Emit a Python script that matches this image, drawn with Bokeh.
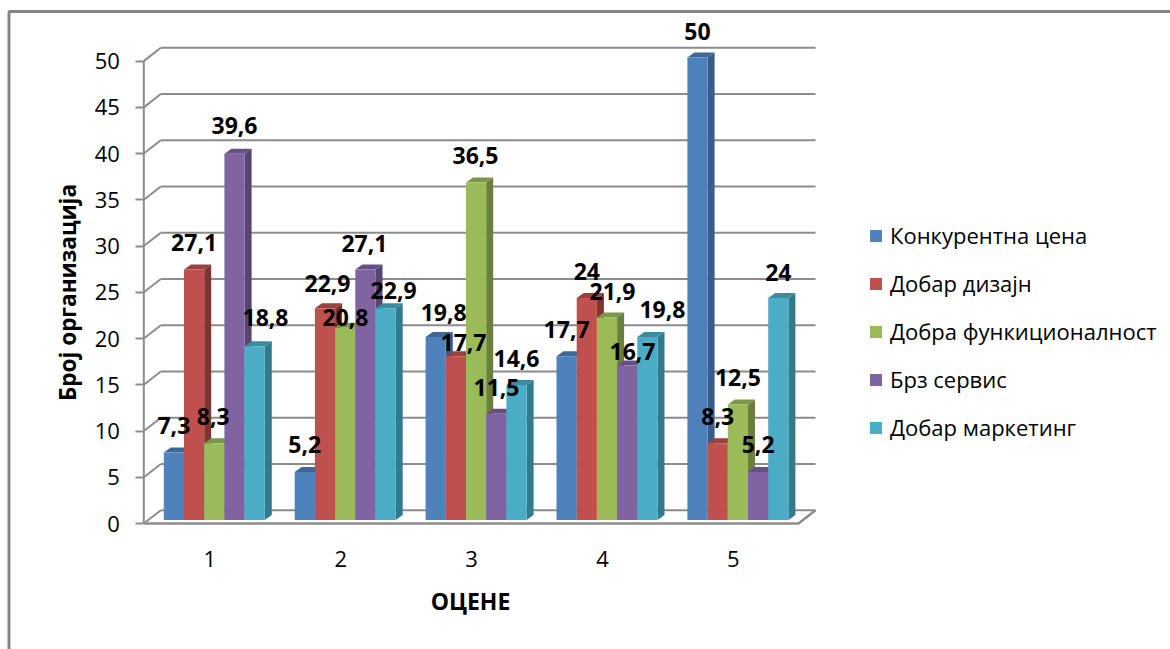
from math import pi

from bokeh.core.properties import value
from bokeh.embed import file_html
from bokeh.models import ColumnDataSource, FixedTicker, Legend, LegendItem, Range1d
from bokeh.plotting import figure
from bokeh.resources import INLINE

# Survey results per grade
GRADES = [1, 2, 3, 4, 5]
CENA = [7.3, 5.2, 19.8, 17.7, 50]
DIZAJN = [27.1, 22.9, 17.7, 24, 8.3]
FUNKCIJA = [8.3, 20.8, 36.5, 21.9, 12.5]
SERVIS = [39.6, 27.1, 11.5, 16.7, 5.2]
MARKETING = [18.8, 22.9, 14.6, 19.8, 24]
SERIES_NAMES = ["Конкурентна цена", "Добар дизајн", "Добра функиционалност", "Брз сервис", "Добар маркетинг"]
SERIES = [CENA, DIZAJN, FUNKCIJA, SERVIS, MARKETING]
Y_TICKS = [0, 5, 10, 15, 20, 25, 30, 35, 40, 45, 50]

# Face colours: front, top, side
FRONT = ["#4F81BD", "#C0504D", "#9BBB59", "#8064A2", "#4BACC6"]
TOP = ["#3F6797", "#9A403E", "#7C9647", "#664F82", "#3C8A9E"]
SIDE = ["#385D8A", "#7F3431", "#6A7F3B", "#57446F", "#317B8E"]

# Nudges of the value labels in pixels (right, up), series by series
LABEL_NUDGE = [
    [(0, 27), (0, 27), (8, 24), (0, 27), (0, 26)],
    [(0, 27), (2.5, 25), (7.6, 14), (0, 26.5), (0, 26.7)],
    [(-1, 26.7), (0.3, 10), (-0.6, 27), (5.5, 26), (0, 27)],
    [(0, 28), (-1, 26), (0.2, 26), (5.3, 14), (0, 27.4)],
    [(10.8, 28.6), (8, 18), (0, 26.5), (15, 27), (0, 25.5)],
]

WIDTH, HEIGHT = 1170, 649
X_PER_UNIT = 130.9
Y_PER_UNIT = 9.248
BASE_PX = 523.0
LABEL_FONT = "Open Sans"
GREY = "#8C8C8C"


def xp(px):
    return 1 + (px - 209.3) / X_PER_UNIT


def yp(px):
    return (BASE_PX - px) / Y_PER_UNIT


p = figure(
    width=WIDTH, height=HEIGHT, output_backend="svg", toolbar_location=None,
    x_range=Range1d(xp(0), xp(WIDTH)), y_range=Range1d(yp(HEIGHT), yp(0)),
    min_border=0, outline_line_color=None, background_fill_color="white",
)
p.grid.visible = False

# Frame around the chart area: only top and left edges fall inside the page
p.line([xp(8.5), xp(8.5), xp(WIDTH)], [yp(HEIGHT), yp(11), yp(11)], line_color="#858585", line_width=3)

# Back wall gridlines and the diagonals joining them to the value axis
wall_dx, wall_dy = 17 / X_PER_UNIT, 13.3 / Y_PER_UNIT
left, right = xp(143.3), xp(798)
p.segment([left + wall_dx] * len(Y_TICKS), [v + wall_dy for v in Y_TICKS],
          [right + wall_dx] * len(Y_TICKS), [v + wall_dy for v in Y_TICKS], line_color=GREY, line_width=2)
p.segment([left] * len(Y_TICKS), Y_TICKS, [left + wall_dx] * len(Y_TICKS),
          [v + wall_dy for v in Y_TICKS], line_color=GREY, line_width=2)
p.line([left, left], [0, max(Y_TICKS)], line_color=GREY, line_width=2)
p.line([left, right, right + wall_dx], [0, 0, wall_dy], line_color=GREY, line_width=2.5)

# Extruded columns: side and top faces first, each series over the one before
bar_w = 20.2 / X_PER_UNIT
side_dx, top_dy = 7 / X_PER_UNIT, 5 / Y_PER_UNIT
floor = 3.5 / Y_PER_UNIT
group_shift = 4.5 / X_PER_UNIT
legend_items = []
label_x, label_y, label_t, label_dx, label_dy = [], [], [], [], []

for j, vals in enumerate(SERIES):
    x0 = [g + group_shift + (j - 2.5) * bar_w for g in GRADES]
    x1 = [a + bar_w for a in x0]
    y1 = [v + floor for v in vals]
    side_xs = [[b, b + side_dx, b + side_dx, b] for b in x1]
    side_ys = [[floor, floor + top_dy, t + top_dy, t] for t in y1]
    top_xs = [[a, a + side_dx, b + side_dx, b] for a, b in zip(x0, x1)]
    top_ys = [[t, t + top_dy, t + top_dy, t] for t in y1]
    p.patches(side_xs, side_ys, fill_color=SIDE[j], line_color=None)
    p.patches(top_xs, top_ys, fill_color=TOP[j], line_color=None)
    front = p.quad(left=x0, right=x1, bottom=floor, top=y1, fill_color=FRONT[j], line_color=None)
    legend_items.append(LegendItem(label=SERIES_NAMES[j], renderers=[front]))
    for i, v in enumerate(vals):
        label_x.append((x0[i] + x1[i]) / 2)
        label_y.append(y1[i])
        label_t.append(str(v).replace(".", ","))
        label_dx.append(LABEL_NUDGE[j][i][0])
        label_dy.append(-LABEL_NUDGE[j][i][1])

# Value labels
p.text(x="x", y="y", text="t", x_offset="dx", y_offset="dy",
       source=ColumnDataSource(dict(x=label_x, y=label_y, t=label_t, dx=label_dx, dy=label_dy)),
       text_font=value(LABEL_FONT), text_font_style="bold", text_font_size="23px",
       text_color="black", text_align="center", text_baseline="middle")

# Axis titles
p.text(x=[xp(67)], y=[yp(292)], text=["Број организација"], angle=pi / 2,
       text_font=value(LABEL_FONT), text_font_style="bold", text_font_size="22.5px",
       text_color="black", text_align="center", text_baseline="middle")
p.text(x=[xp(470)], y=[yp(600)], text=["ОЦЕНЕ"],
       text_font=value(LABEL_FONT), text_font_style="bold", text_font_size="23px",
       text_color="black", text_align="center", text_baseline="middle")

# Axes pinned inside the frame
xax = p.xaxis[0]
xax.fixed_location = 0
xax.ticker = FixedTicker(ticks=GRADES)
xax.axis_line_color = None
xax.major_tick_line_color = None
xax.minor_tick_line_color = None
xax.major_label_standoff = 21
xax.major_label_text_font = LABEL_FONT
xax.major_label_text_font_size = "22px"
xax.major_label_text_color = "black"

yax = p.yaxis[0]
yax.fixed_location = float(left)
yax.ticker = FixedTicker(ticks=Y_TICKS)
yax.axis_line_color = None
yax.major_tick_line_color = GREY
yax.major_tick_line_width = 2
yax.major_tick_in = 0
yax.major_tick_out = 8
yax.minor_tick_line_color = None
yax.major_label_standoff = 16
yax.major_label_text_font = LABEL_FONT
yax.major_label_text_font_size = "22px"
yax.major_label_text_color = "black"

legend = Legend(
    items=legend_items, location=(868, 207), orientation="vertical",
    glyph_width=15, glyph_height=15, label_height=24, label_standoff=7,
    spacing=18, padding=0, margin=0, border_line_color=None, background_fill_alpha=0,
    label_text_font=LABEL_FONT, label_text_font_size="22px", label_text_color="black",
)
p.add_layout(legend)

open("out.html", "w").write(file_html(p, INLINE))
